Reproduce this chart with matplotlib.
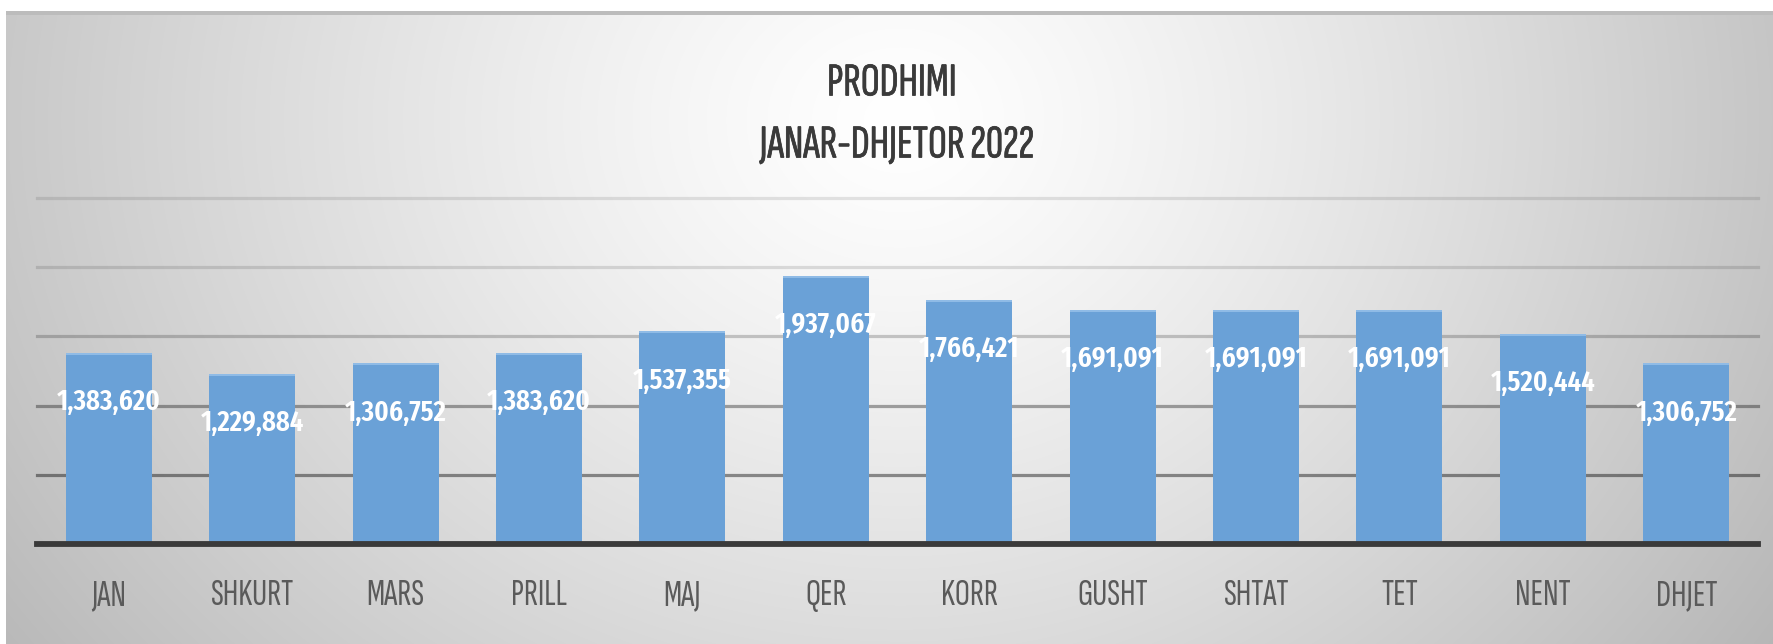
import matplotlib
matplotlib.use("Agg")
import matplotlib.pyplot as plt
import matplotlib.patheffects as pe
import numpy as np

# ---- data ----
months = ["JAN", "SHKURT", "MARS", "PRILL", "MAJ", "QER",
          "KORR", "GUSHT", "SHTAT", "TET", "NENT", "DHJET"]
production = [1383620, 1229884, 1306752, 1383620, 1537355, 1937067,
              1766421, 1691091, 1691091, 1691091, 1520444, 1306752]
title_line1 = "PRODHIMI"
title_line2 = "JANAR-DHJETOR 2022"
grid_values = [500000, 1000000, 1500000, 2000000, 2500000]

FONT_LBL = ["Fira Sans Extra Condensed", "DejaVu Sans"]
FONT_TICK = ["Sofia Sans Extra Condensed", "Fira Sans Extra Condensed", "DejaVu Sans"]
FONT_TITLE = ["Sofia Sans Extra Condensed", "Fira Sans Extra Condensed", "DejaVu Sans"]

W, H = 1773, 644
fig = plt.figure(figsize=(W / 100, H / 100), dpi=100)

# ---- background gradient (Excel-like radial fill) ----
bg = fig.add_axes([0, 0, 1, 1], zorder=-10)
yy, xx = np.mgrid[0:H, 0:W].astype(float)
cx, cy = 900.0, 120.0
rx = np.where(xx < cx, 920.0, 860.0)
d = np.sqrt(((xx - cx) / rx) ** 2 + ((yy - cy) / 760.0) ** 2)
v = 1.0 - 0.22 * np.clip(d, 0, 1.3) ** 1.25
img = np.dstack([v, v, v])
img[:11, :, :] = 1.0
img[:, :6, :] = 1.0
img[11:15, 6:, :] = 0.74
bg.imshow(img, extent=[0, W, H, 0], aspect="auto", interpolation="bilinear")
bg.set_xlim(0, W)
bg.set_ylim(H, 0)
bg.axis("off")

# ---- main axes ----
left, right = 37, 1758
base_y, top_y = 544, 198
ax = fig.add_axes([left / W, (H - base_y) / H, (right - left) / W, (base_y - top_y) / H])
ax.set_facecolor("none")
x = np.arange(len(months))
ax.set_xlim(-0.5, len(months) - 0.5)
ax.set_ylim(0, 2500000)

grid_alpha = [0.42, 0.34, 0.2, 0.12, 0.1]
for gv, ga in zip(grid_values, grid_alpha):
    ax.axhline(gv, color="black", alpha=ga, lw=2.3, zorder=1, clip_on=False)

ax.bar(x, production, width=0.6, color="#6aa1d7", zorder=2)
# light highlight at bar tops
ax.bar(x, [16000] * len(x), bottom=np.array(production) - 16000, width=0.6,
       color="#8fbbe6", zorder=2.1)

ax.axhline(0, color="#3a3a3a", lw=4.2, zorder=3, clip_on=False)

for xi, val in zip(x, production):
    ax.annotate(f"{val:,}", (xi, val), xytext=(0, -35.5), textcoords="offset points",
                ha="center", va="center", color="white", fontsize=21,
                fontweight="semibold", family=FONT_LBL, zorder=4)

for s in ax.spines.values():
    s.set_visible(False)
ax.set_yticks([])
ax.set_xticks(x)
ax.set_xticklabels(months, family=FONT_TICK, fontsize=27, color="#5a5a5a")
ax.tick_params(axis="x", length=0, pad=25)

thick = [pe.withStroke(linewidth=0.5, foreground="#3a3a3a")]
fig.text(892 / W, 1 - 84 / H, title_line1, ha="center", va="center",
         fontsize=34, color="#3a3a3a", family=FONT_TITLE, path_effects=thick)
fig.text(897 / W, 1 - 146 / H, title_line2, ha="center", va="center",
         fontsize=34, color="#3a3a3a", family=FONT_TITLE, path_effects=thick)

fig.savefig("out.png", dpi=100)
